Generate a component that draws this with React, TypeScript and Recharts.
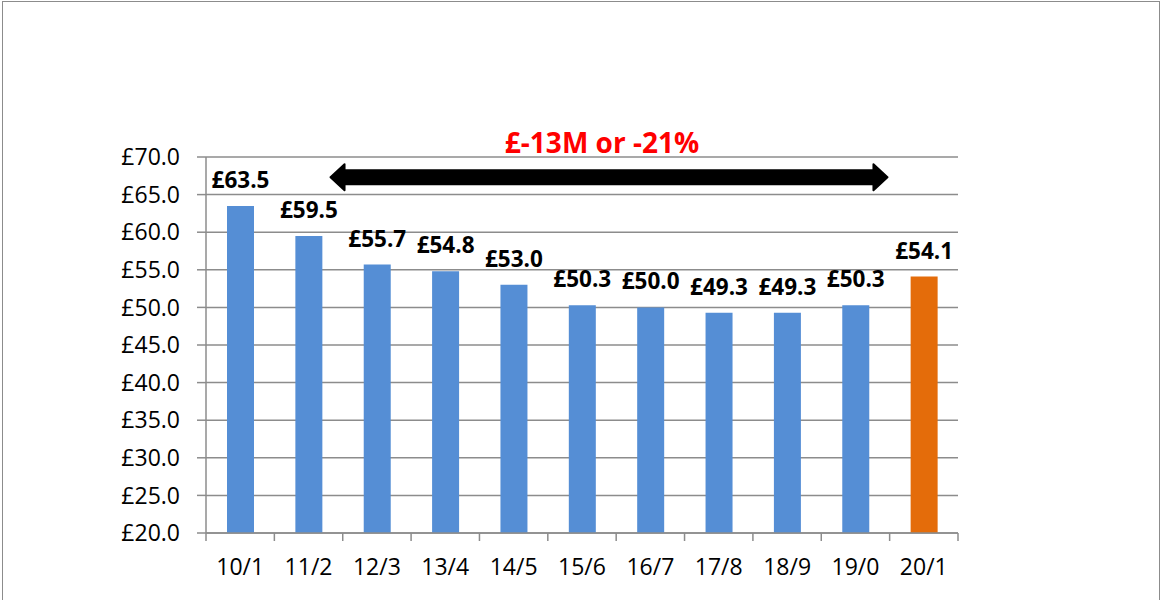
import React from 'react';
import { BarChart, Bar, XAxis, YAxis, CartesianGrid, LabelList, Cell, ReferenceLine } from 'recharts';

const periods = ['10/1', '11/2', '12/3', '13/4', '14/5', '15/6', '16/7', '17/8', '18/9', '19/0', '20/1'];
const costs = [63.5, 59.5, 55.7, 54.8, 53.0, 50.3, 50.0, 49.3, 49.3, 50.3, 54.1];
const yTicks = [20, 25, 30, 35, 40, 45, 50, 55, 60, 65, 70];
const changeText = '£-13M or -21%';

const BLUE = '#558ED5';
const ORANGE = '#E46C0A';
const GRID = '#8c8c8c';
const FONT = '"Open Sans", sans-serif';

const W = 1166;
const H = 600;
const PLOT_W = 958 - 206;
const BAND = PLOT_W / periods.length;

const data = periods.map((p, i) => ({ period: p, cost: costs[i] }));

const XTick = (props: any) => {
  const { x, y, payload, index } = props;
  const left = x - BAND / 2;
  return (
    <g>
      <line x1={left} x2={left} y1={y - 8} y2={y} stroke={GRID} strokeWidth={1.5} />
      {index === periods.length - 1 && (
        <line x1={left + BAND} x2={left + BAND} y1={y - 8} y2={y} stroke={GRID} strokeWidth={1.5} />
      )}
      <text x={x} y={y + 34} textAnchor="middle" fill="#000" fontSize={23} fontFamily={FONT}>
        {payload.value}
      </text>
    </g>
  );
};

const Arrow = (props: any) => {
  const { x1, y1, x2 } = props;
  const a = x1 + 22;
  const b = x2 + 32;
  const y = y1;
  const head = 14;
  const hw = 13;
  const sw = 7;
  const pts = [
    [a, y],
    [a + head, y - hw],
    [a + head, y - sw],
    [b - head, y - sw],
    [b - head, y - hw],
    [b, y],
    [b - head, y + hw],
    [b - head, y + sw],
    [a + head, y + sw],
    [a + head, y + hw],
  ]
    .map((p) => p.join(','))
    .join(' ');
  return <polygon points={pts} fill="#000" stroke="#000" strokeWidth={2} strokeLinejoin="round" />;
};

export default function App() {
  return (
    <div style={{ position: 'fixed', left: 0, top: 0, width: W, height: H, background: '#fff' }}>
      <div
        style={{
          position: 'absolute',
          left: 2,
          top: 1,
          width: 1158,
          height: 640,
          border: '1.5px solid #8c8c8c',
          boxSizing: 'border-box',
        }}
      />
      <BarChart
        width={W}
        height={H}
        data={data}
        margin={{ top: 157, right: 208, bottom: 0, left: 0 }}
        barSize={27}
      >
        <CartesianGrid vertical={false} stroke={GRID} strokeWidth={1.5} />
        <XAxis
          dataKey="period"
          height={67}
          axisLine={{ stroke: GRID, strokeWidth: 1.5 }}
          tickLine={false}
          tick={<XTick />}
          interval={0}
        />
        <YAxis
          width={206}
          domain={[20, 70]}
          ticks={yTicks}
          allowDataOverflow
          axisLine={{ stroke: GRID, strokeWidth: 1.5 }}
          tickLine={{ stroke: GRID, strokeWidth: 1.5 }}
          tickSize={9}
          tickMargin={17}
          tickFormatter={(v: number) => `£${v.toFixed(1)}`}
          tick={{ fill: '#000', fontSize: 23, fontFamily: FONT }}
        />
        <ReferenceLine
          segment={[
            { x: '11/2', y: 67.3 },
            { x: '19/0', y: 67.3 },
          ]}
          shape={<Arrow />}
          ifOverflow="visible"
        />
        <Bar dataKey="cost" isAnimationActive={false}>
          {data.map((d, i) => (
            <Cell key={d.period} fill={i === data.length - 1 ? ORANGE : BLUE} />
          ))}
          <LabelList
            dataKey="cost"
            position="top"
            offset={18}
            formatter={(v: any) => `£${Number(v).toFixed(1)}`}
            style={{ fill: '#000', fontSize: 22.5, fontWeight: 700, fontFamily: FONT }}
          />
        </Bar>
      </BarChart>
      <div
        style={{
          position: 'absolute',
          left: 206,
          width: PLOT_W + 40,
          top: 123,
          textAlign: 'center',
          color: '#ff0000',
          fontFamily: FONT,
          fontWeight: 700,
          fontSize: 28,
          lineHeight: '38px',
        }}
      >
        {changeText}
      </div>
    </div>
  );
}
